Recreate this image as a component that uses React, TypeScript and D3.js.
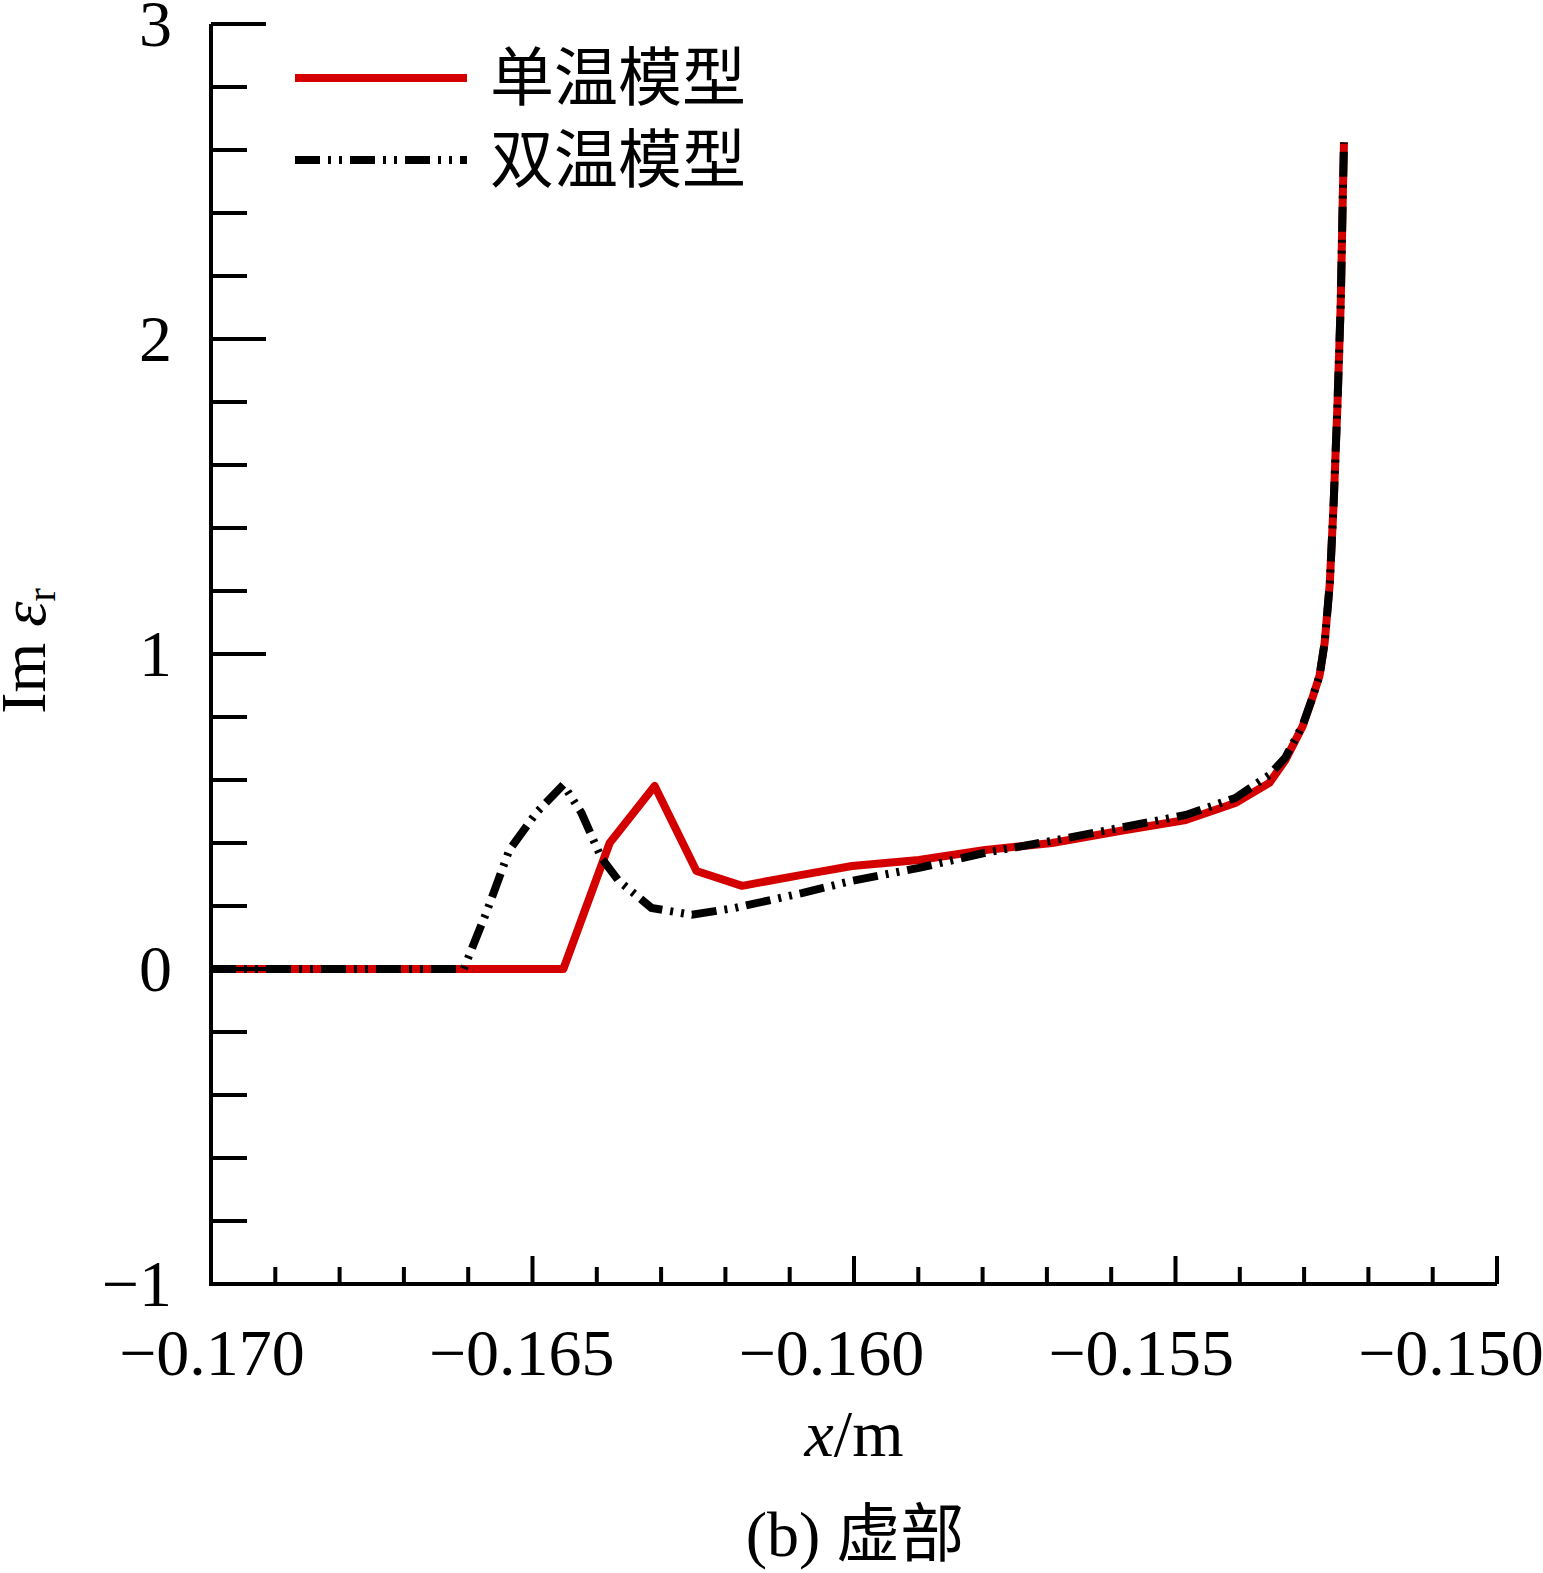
import * as d3 from "d3";

const WIDTH = 1543;
const HEIGHT = 1573;
const PLOT = { left: 211, right: 1497, top: 24, bottom: 1284 };

// series 1: 单温模型 (red)
const singleX = [
  -0.17, -0.16452, -0.1638, -0.1631, -0.16245, -0.16174, -0.16081, -0.16003,
  -0.15899, -0.15796, -0.15692, -0.15587, -0.15484, -0.15407, -0.15354,
  -0.15329, -0.15302, -0.15287, -0.15276, -0.15268, -0.1526, -0.15254,
  -0.15248, -0.15243, -0.1524, -0.15238,
];
const singleY = [
  0, 0, 0.4, 0.581, 0.311, 0.264, 0.299, 0.327, 0.346, 0.378, 0.4, 0.438,
  0.473, 0.527, 0.591, 0.664, 0.772, 0.861, 0.931, 1.036, 1.226, 1.481,
  1.798, 2.116, 2.434, 2.624,
];

// series 2: 双温模型 (black dash-dot-dot)
const doubleX = [
  -0.17, -0.16607, -0.16572, -0.16536, -0.16494, -0.16452, -0.16424,
  -0.16393, -0.16366, -0.16315, -0.16252, -0.16185, -0.16081, -0.16003,
  -0.15899, -0.15796, -0.15692, -0.15587, -0.15484, -0.15407, -0.15354,
  -0.15329, -0.15302, -0.15287, -0.15276, -0.15268, -0.1526, -0.15254,
  -0.15248, -0.15243, -0.1524, -0.15238,
];
const doubleY = [
  0, 0, 0.178, 0.378, 0.496, 0.585, 0.496, 0.353, 0.28, 0.194, 0.172, 0.194,
  0.241, 0.28, 0.321, 0.369, 0.407, 0.448, 0.489, 0.543, 0.616, 0.672, 0.775,
  0.862, 0.931, 1.036, 1.226, 1.481, 1.798, 2.116, 2.434, 2.624,
];

const seriesNames = ["单温模型", "双温模型"];
const xMajorTicks = [-0.17, -0.165, -0.16, -0.155, -0.15];
const yMajorTicks = [-1, 0, 1, 2, 3];

const SERIF = "'Liberation Serif', 'Times New Roman', serif";
const CJK = "'Noto Sans CJK SC', sans-serif";
const DASH = "25,8,3,8,3,8";

export default function App() {
  const x = d3.scaleLinear().domain([-0.17, -0.15]).range([PLOT.left, PLOT.right]);
  const y = d3.scaleLinear().domain([-1, 3]).range([PLOT.bottom, PLOT.top]);
  // tick labels sit a little left of their ticks, more so towards the right
  const xLabel = d3.scaleLinear().domain([-0.17, -0.15]).range([212, 1451]);

  const line = d3
    .line<[number, number]>()
    .x((d) => x(d[0]))
    .y((d) => y(d[1]));

  const single = singleX.map((v, i) => [v, singleY[i]] as [number, number]);
  const double = doubleX.map((v, i) => [v, doubleY[i]] as [number, number]);

  const xMinor = d3.range(0, 21).map((i) => -0.17 + i * 0.001);
  const yMinor = d3.range(0, 21).map((i) => -1 + i * 0.2);
  const fmt = d3.format(".3f");
  const fmtY = d3.format("d");

  return (
    <svg
      width={WIDTH}
      height={HEIGHT}
      style={{ position: "absolute", left: 0, top: 0, background: "#fff" }}
    >
      {/* data */}
      <path d={line(single) || ""} fill="none" stroke="#d40000" strokeWidth={8} strokeLinejoin="round" />
      <path d={line(double) || ""} fill="none" stroke="#000" strokeWidth={8} strokeDasharray={DASH} />

      {/* axes */}
      <g stroke="#000" strokeWidth={4}>
        <line x1={PLOT.left} x2={PLOT.left} y1={PLOT.top} y2={PLOT.bottom + 2} />
        <line x1={PLOT.left - 2} x2={PLOT.right} y1={PLOT.bottom} y2={PLOT.bottom} />
        {xMinor.map((v, i) => (
          <line key={"xm" + i} x1={x(v)} x2={x(v)} y1={PLOT.bottom} y2={PLOT.bottom - (i % 5 === 0 ? 28 : 17)} />
        ))}
        {yMinor.map((v, i) => (
          <line key={"ym" + i} x1={PLOT.left} x2={PLOT.left + (i % 5 === 0 ? 55 : 36)} y1={y(v)} y2={y(v)} />
        ))}
      </g>

      {/* tick labels */}
      <g fontFamily={SERIF} fontSize={66} fill="#000">
        {xMajorTicks.map((v) => (
          <text key={"xl" + v} x={xLabel(v)} y={1375} textAnchor="middle">
            {fmt(v)}
          </text>
        ))}
        {yMajorTicks.map((v) => (
          <text key={"yl" + v} x={172} y={y(v) + 22} textAnchor="end">
            {fmtY(v)}
          </text>
        ))}
      </g>

      {/* axis titles */}
      <text x={854} y={1456} textAnchor="middle" fontFamily={SERIF} fontSize={66}>
        <tspan fontStyle="italic">x</tspan>/m
      </text>
      <text transform="translate(45,651) rotate(-90)" textAnchor="middle" fontFamily={SERIF} fontSize={64}>
        Im <tspan fontStyle="italic">ε</tspan>
        <tspan fontSize={40} dy={10}>r</tspan>
      </text>
      <text x={855} y={1556} textAnchor="middle" fontSize={64}>
        <tspan fontFamily={SERIF}>(b) </tspan>
        <tspan fontFamily={CJK}>虚部</tspan>
      </text>

      {/* legend */}
      <g>
        <line x1={295} x2={467} y1={78} y2={78} stroke="#d40000" strokeWidth={8} />
        <line x1={295} x2={467} y1={160} y2={160} stroke="#000" strokeWidth={8} strokeDasharray={DASH} />
        <text x={490} y={100} fontFamily={CJK} fontSize={64}>
          {seriesNames[0]}
        </text>
        <text x={490} y={182} fontFamily={CJK} fontSize={64}>
          {seriesNames[1]}
        </text>
      </g>
    </svg>
  );
}
